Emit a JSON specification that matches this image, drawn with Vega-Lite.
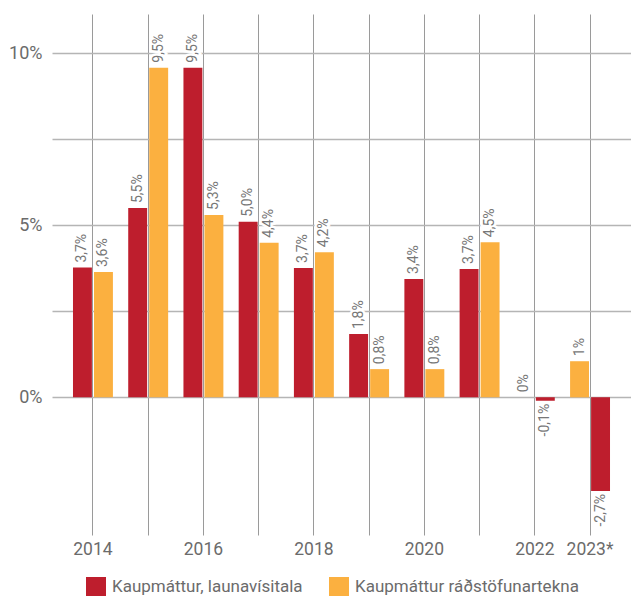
{
  "$schema": "https://vega.github.io/schema/vega-lite/v6.json",
  "width": 579,
  "height": 521,
  "autosize": {"type": "none"},
  "padding": {"left": 52, "top": 14, "right": 0, "bottom": 61},
  "background": "white",
  "config": {
    "view": {"stroke": null},
    "font": "Roboto"
  },
  "data": {
    "values": [
      {"year": "2014", "series": "Kaupmáttur, launavísitala", "slot": "1", "value": 3.77, "label": "3,7%"},
      {"year": "2014", "series": "Kaupmáttur ráðstöfunartekna", "slot": "2", "value": 3.64, "label": "3,6%"},
      {"year": "2015", "series": "Kaupmáttur, launavísitala", "slot": "1", "value": 5.5, "label": "5,5%"},
      {"year": "2015", "series": "Kaupmáttur ráðstöfunartekna", "slot": "2", "value": 9.58, "label": "9,5%"},
      {"year": "2016", "series": "Kaupmáttur, launavísitala", "slot": "1", "value": 9.58, "label": "9,5%"},
      {"year": "2016", "series": "Kaupmáttur ráðstöfunartekna", "slot": "2", "value": 5.3, "label": "5,3%"},
      {"year": "2017", "series": "Kaupmáttur, launavísitala", "slot": "1", "value": 5.1, "label": "5,0%"},
      {"year": "2017", "series": "Kaupmáttur ráðstöfunartekna", "slot": "2", "value": 4.49, "label": "4,4%"},
      {"year": "2018", "series": "Kaupmáttur, launavísitala", "slot": "1", "value": 3.76, "label": "3,7%"},
      {"year": "2018", "series": "Kaupmáttur ráðstöfunartekna", "slot": "2", "value": 4.22, "label": "4,2%"},
      {"year": "2019", "series": "Kaupmáttur, launavísitala", "slot": "1", "value": 1.84, "label": "1,8%"},
      {"year": "2019", "series": "Kaupmáttur ráðstöfunartekna", "slot": "2", "value": 0.82, "label": "0,8%"},
      {"year": "2020", "series": "Kaupmáttur, launavísitala", "slot": "1", "value": 3.44, "label": "3,4%"},
      {"year": "2020", "series": "Kaupmáttur ráðstöfunartekna", "slot": "2", "value": 0.82, "label": "0,8%"},
      {"year": "2021", "series": "Kaupmáttur, launavísitala", "slot": "1", "value": 3.73, "label": "3,7%"},
      {"year": "2021", "series": "Kaupmáttur ráðstöfunartekna", "slot": "2", "value": 4.51, "label": "4,5%"},
      {"year": "2022", "series": "Kaupmáttur ráðstöfunartekna", "slot": "1", "value": 0.0, "label": "0%"},
      {"year": "2022", "series": "Kaupmáttur, launavísitala", "slot": "2", "value": -0.1, "label": "-0,1%"},
      {"year": "2023*", "series": "Kaupmáttur ráðstöfunartekna", "slot": "1", "value": 1.05, "label": "1%"},
      {"year": "2023*", "series": "Kaupmáttur, launavísitala", "slot": "2", "value": -2.72, "label": "-2,7%"}
    ]
  },
  "encoding": {
    "x": {
      "field": "year",
      "type": "nominal",
      "sort": null,
      "title": null,
      "scale": {"paddingInner": 0.277, "paddingOuter": 0.38},
      "axis": {
        "domain": false,
        "ticks": false,
        "grid": true,
        "gridColor": "#9a9a9a",
        "gridWidth": 1,
        "labelAngle": 0,
        "labelFont": "Roboto",
        "labelFontSize": 17.5,
        "labelColor": "#6b6b6b",
        "labelPadding": 5,
        "labelExpr": "indexof(['2015','2017','2019','2021'], datum.label) >= 0 ? '' : datum.label"
      }
    },
    "xOffset": {
      "field": "slot",
      "type": "nominal",
      "scale": {"paddingInner": 0.1, "paddingOuter": 0}
    },
    "y": {
      "field": "value",
      "type": "quantitative",
      "title": null,
      "scale": {"domain": [-4.0, 11.14], "nice": false, "zero": false},
      "axis": {
        "domain": false,
        "ticks": false,
        "values": [0, 2.5, 5, 7.5, 10],
        "grid": true,
        "gridColor": "#b5b5b5",
        "gridWidth": 1.5,
        "labelFont": "Roboto",
        "labelFontSize": 18,
        "labelColor": "#6b6b6b",
        "labelPadding": 10,
        "labelExpr": "datum.value % 5 === 0 ? datum.value + '%' : ''"
      }
    }
  },
  "layer": [
    {
      "mark": {"type": "bar"},
      "encoding": {
        "color": {
          "field": "series",
          "type": "nominal",
          "title": null,
          "scale": {
            "domain": ["Kaupmáttur, launavísitala", "Kaupmáttur ráðstöfunartekna"],
            "range": ["#be1e2d", "#fbb040"]
          },
          "legend": {
            "orient": "none",
            "legendX": 34,
            "legendY": 563,
            "direction": "horizontal",
            "symbolType": "square",
            "symbolSize": 400,
            "symbolStrokeWidth": 0,
            "labelFont": "Roboto",
            "labelFontSize": 17,
            "labelColor": "#6b6b6b",
            "labelOffset": 6,
            "columnPadding": 26,
            "labelLimit": 400
          }
        }
      }
    },
    {
      "transform": [{"filter": "datum.value >= 0"}],
      "mark": {"type": "text", "angle": 270, "align": "left", "baseline": "middle", "dx": 5, "fontSize": 14, "fill": "white", "stroke": "white", "strokeWidth": 5, "font": "Roboto"},
      "encoding": {"text": {"field": "label"}}
    },
    {
      "transform": [{"filter": "datum.value >= 0"}],
      "mark": {"type": "text", "angle": 270, "align": "left", "baseline": "middle", "dx": 5, "fontSize": 14, "color": "#777777", "font": "Roboto"},
      "encoding": {"text": {"field": "label"}}
    },
    {
      "transform": [{"filter": "datum.value < 0"}],
      "mark": {"type": "text", "angle": 270, "align": "right", "baseline": "middle", "dx": -3, "fontSize": 14, "color": "#777777", "font": "Roboto"},
      "encoding": {"text": {"field": "label"}}
    }
  ]
}
